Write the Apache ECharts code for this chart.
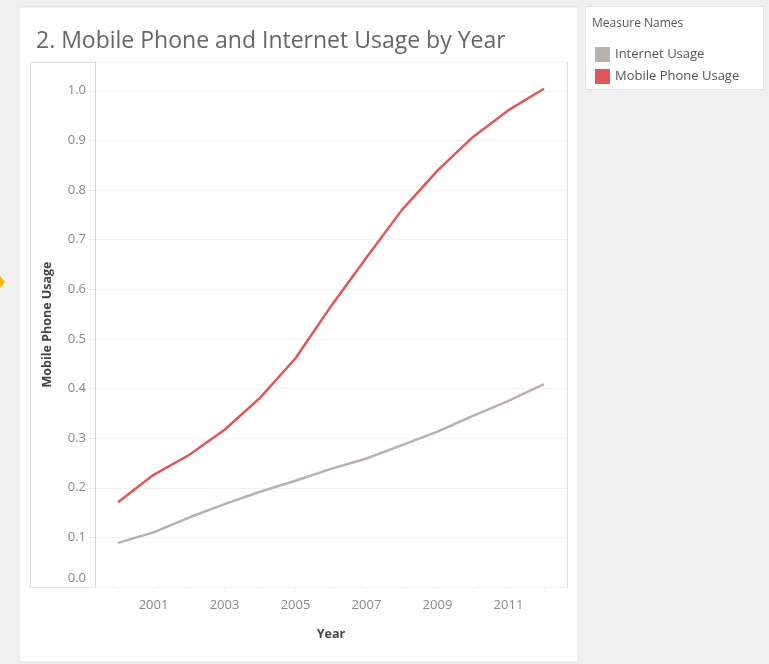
<!DOCTYPE html>
<html>
<head>
<meta charset="utf-8">
<script src="https://cdn.jsdelivr.net/npm/echarts@6/dist/echarts.min.js"></script>
<style>
  html, body { margin: 0; padding: 0; background: #f0f0f0; }
  #chart { width: 769px; height: 664px; }
</style>
</head>
<body>
<div id="chart"></div>
<script>
// values
const years = [2000, 2001, 2002, 2003, 2004, 2005, 2006, 2007, 2008, 2009, 2010, 2011, 2012];
const internetUsage = [0.089, 0.110, 0.140, 0.167, 0.192, 0.214, 0.238, 0.259, 0.286, 0.313, 0.345, 0.375, 0.409];
const mobileUsage = [0.171, 0.226, 0.266, 0.317, 0.381, 0.461, 0.566, 0.664, 0.760, 0.839, 0.907, 0.961, 1.004];
const yearLabels = [2001, 2003, 2005, 2007, 2009, 2011];
const seriesNames = ['Internet Usage', 'Mobile Phone Usage'];
const colors = ['#bab0ac', '#e15759'];

const font = '"Open Sans", sans-serif';
const chart = echarts.init(document.getElementById('chart'));

const toPairs = vals => years.map((y, i) => [y, vals[i]]);

chart.setOption({
  backgroundColor: '#f0f0f0',
  textStyle: { fontFamily: font },
  animation: false,
  color: colors,
  graphic: [
    // white worksheet panel
    { type: 'rect', z: -10, shape: { x: 19, y: 7, width: 559, height: 655 },
      style: { fill: '#fff', stroke: '#e3e3e3', lineWidth: 1 } },
    // pane frame incl. axis header area
    { type: 'rect', z: -5, shape: { x: 30.5, y: 62.5, width: 537, height: 525 },
      style: { fill: 'none', stroke: '#dcdcdc', lineWidth: 1 } },
    // legend card
    { type: 'rect', z: -10, shape: { x: 585.5, y: 6.5, width: 178, height: 83 },
      style: { fill: '#fff', stroke: '#e3e3e3', lineWidth: 1 } },
    { type: 'text', left: 592, top: 18,
      style: { text: 'Measure Names', fill: '#555', font: '12px ' + font } },
    // little marker at the left edge of the screenshot
    { type: 'polygon', shape: { points: [[0, 276], [5, 282], [0, 288]] },
      style: { fill: '#f5b400' } }
  ],
  title: {
    text: '2. Mobile Phone and Internet Usage by Year',
    left: 31,
    top: 25,
    textStyle: { fontFamily: font, fontSize: 23, fontWeight: 'normal', color: '#666' }
  },
  legend: {
    data: seriesNames,
    orient: 'vertical',
    left: 590,
    top: 42,
    icon: 'rect',
    itemWidth: 15,
    itemHeight: 15,
    itemGap: 7,
    textStyle: { fontFamily: font, fontSize: 13, color: '#555' }
  },
  grid: {
    left: 95,
    top: 62,
    right: 202,
    bottom: 77,
    containLabel: false
  },
  xAxis: {
    type: 'value',
    min: 1999.35,
    max: 2012.65,
    name: 'Year',
    nameLocation: 'middle',
    nameGap: 41,
    nameTextStyle: { fontFamily: font, fontSize: 12.5, fontWeight: 'bold', color: '#444' },
    axisLine: { show: false },
    axisTick: { show: true, customValues: years, length: 4, lineStyle: { color: '#f0f0f0' } },
    splitLine: { show: false },
    axisLabel: {
      customValues: yearLabels,
      margin: 12,
      color: '#888',
      fontSize: 13,
      fontFamily: font,
      formatter: v => String(v)
    }
  },
  yAxis: {
    type: 'value',
    min: 0,
    max: 1.058,
    interval: 0.1,
    name: 'Mobile Phone Usage',
    nameLocation: 'middle',
    nameRotate: 90,
    nameGap: 41,
    nameTextStyle: { fontFamily: font, fontSize: 12.5, fontWeight: 'bold', color: '#444' },
    axisLine: { show: true, lineStyle: { color: '#d4d4d4' } },
    axisTick: { show: true, length: 7, lineStyle: { color: '#eeeeee' } },
    splitLine: { show: true, lineStyle: { color: '#f2f2f2' } },
    axisLabel: {
      showMaxLabel: false,
      margin: 9,
      color: '#888',
      fontSize: 13,
      fontFamily: font,
      formatter: v => (v === 0 ? '{z|0.0}' : v.toFixed(1)),
      rich: { z: { color: '#888', fontSize: 13, fontFamily: font, padding: [0, 0, 18, 0] } }
    }
  },
  series: [
    {
      name: seriesNames[0],
      type: 'line',
      data: toPairs(internetUsage),
      showSymbol: false,
      lineStyle: { width: 2.5, color: colors[0] },
      itemStyle: { color: colors[0] }
    },
    {
      name: seriesNames[1],
      type: 'line',
      data: toPairs(mobileUsage),
      showSymbol: false,
      lineStyle: { width: 2.5, color: colors[1] },
      itemStyle: { color: colors[1] }
    }
  ]
});
</script>
</body>
</html>
